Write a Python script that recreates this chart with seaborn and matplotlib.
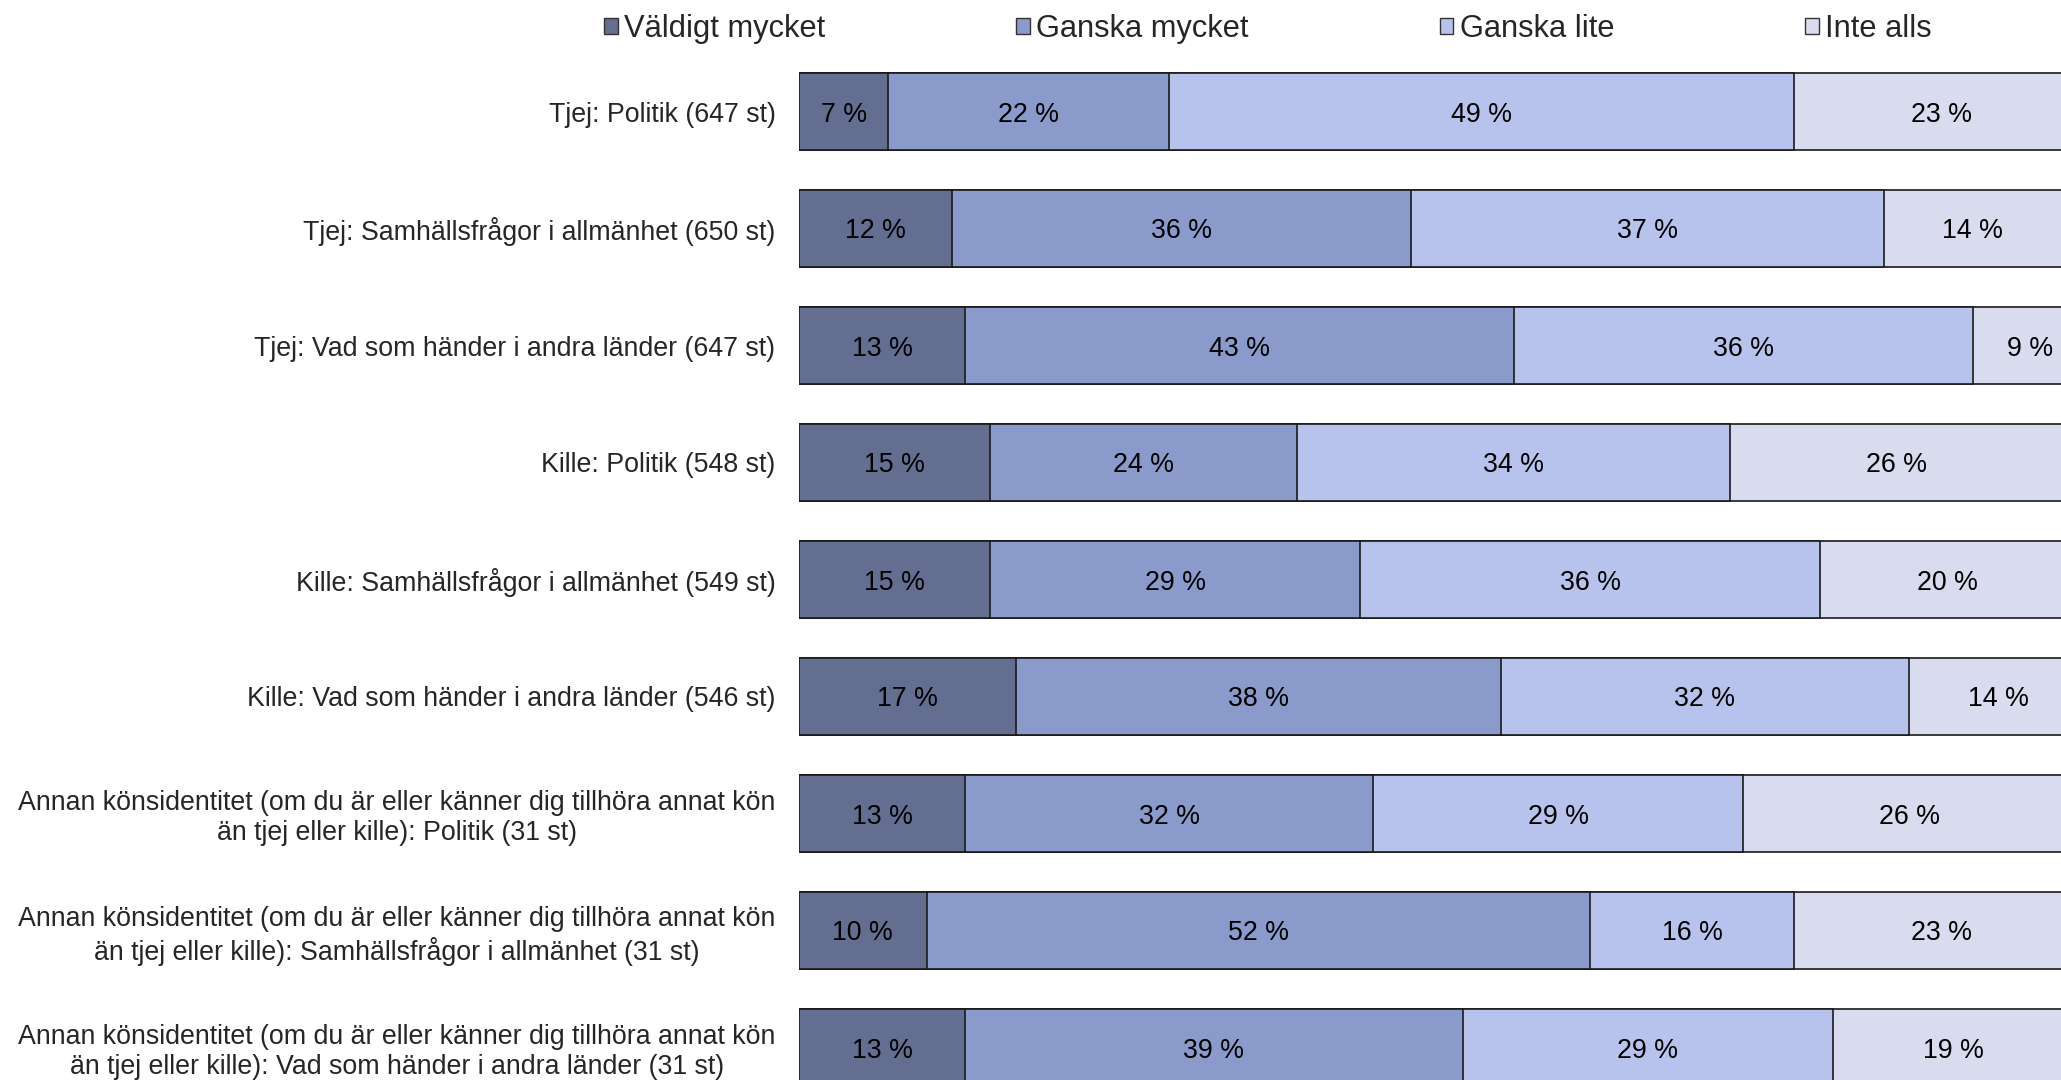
"""
Stacked horizontal bars: interest in politics / society / world news by gender identity
"""
import numpy as np
import pandas as pd
import seaborn as sns
import matplotlib.pyplot as plt
from matplotlib.patches import Patch

sns.set_style('white')
plt.rcParams['font.family'] = ['Liberation Sans', 'DejaVu Sans']

# Data (percent, as labelled)
groups = [
    "Tjej: Politik (647 st)",
    "Tjej: Samhällsfrågor i allmänhet (650 st)",
    "Tjej: Vad som händer i andra länder (647 st)",
    "Kille: Politik (548 st)",
    "Kille: Samhällsfrågor i allmänhet (549 st)",
    "Kille: Vad som händer i andra länder (546 st)",
    "Annan könsidentitet (om du är eller känner dig tillhöra annat kön\nän tjej eller kille): Politik (31 st)",
    "Annan könsidentitet (om du är eller känner dig tillhöra annat kön\nän tjej eller kille): Samhällsfrågor i allmänhet (31 st)",
    "Annan könsidentitet (om du är eller känner dig tillhöra annat kön\nän tjej eller kille): Vad som händer i andra länder (31 st)",
]
answers = ["Väldigt mycket", "Ganska mycket", "Ganska lite", "Inte alls"]
valdigt_mycket = [7, 12, 13, 15, 15, 17, 13, 10, 13]
ganska_mycket = [22, 36, 43, 24, 29, 38, 32, 52, 39]
ganska_lite = [49, 37, 36, 34, 36, 32, 29, 16, 29]
inte_alls = [23, 14, 9, 26, 20, 14, 26, 23, 19]

colors = ['#646e91', '#8a9bcb', '#b7c3ec', '#d9dcee']

df = pd.DataFrame({
    "grupp": groups,
    answers[0]: valdigt_mycket,
    answers[1]: ganska_mycket,
    answers[2]: ganska_lite,
    answers[3]: inte_alls,
})
cum = df[answers].cumsum(axis=1)

W, H = 2061, 1080
fig = plt.figure(figsize=(W / 100, H / 100), dpi=100)
# axes placed in pixels so that rows/edges line up with the original
ax_left, ax_right = 799, 2075
ax_top, ax_bottom = 53, 1106
ax = fig.add_axes([ax_left / W, (H - ax_bottom) / H,
                   (ax_right - ax_left) / W, (ax_bottom - ax_top) / H])

# stacked bars: draw cumulative totals from the last category backwards
for k in range(len(answers) - 1, -1, -1):
    sns.barplot(x=cum[answers[k]], y=df["grupp"], color=colors[k], orient='h',
                width=0.65, edgecolor='#1a1a1a', linewidth=1.2, saturation=1,
                ax=ax)

# value labels centred in each segment
fs = 19.3
for k, a in enumerate(answers):
    centers = cum[a] - df[a] / 2
    for i, (c, v) in enumerate(zip(centers, df[a])):
        ax.text(c, i, f"{v} %", ha='center', va='center_baseline', fontsize=fs, color='black')

ax.set_xlim(0, 100)
ax.set_ylim(len(groups) - 0.5, -0.5)
ax.set_xlabel('')
ax.set_ylabel('')
ax.set_xticks([])
ax.tick_params(axis='y', length=0, pad=17, labelsize=fs)
for lbl in ax.get_yticklabels():
    lbl.set_multialignment('center')
sns.despine(ax=ax, left=True, bottom=True)

# legend
handles = [Patch(facecolor=colors[k], edgecolor='#333333', linewidth=1.0, label=answers[k])
           for k in range(len(answers))]
fig.legend(handles=handles, loc='center', bbox_to_anchor=(1268 / W, 1 - 29 / H), ncol=4,
           frameon=False, fontsize=22.2, handlelength=0.44, handleheight=0.44,
           handletextpad=0.2, columnspacing=6.2, borderpad=0)

plt.savefig('out.png', dpi=100)
